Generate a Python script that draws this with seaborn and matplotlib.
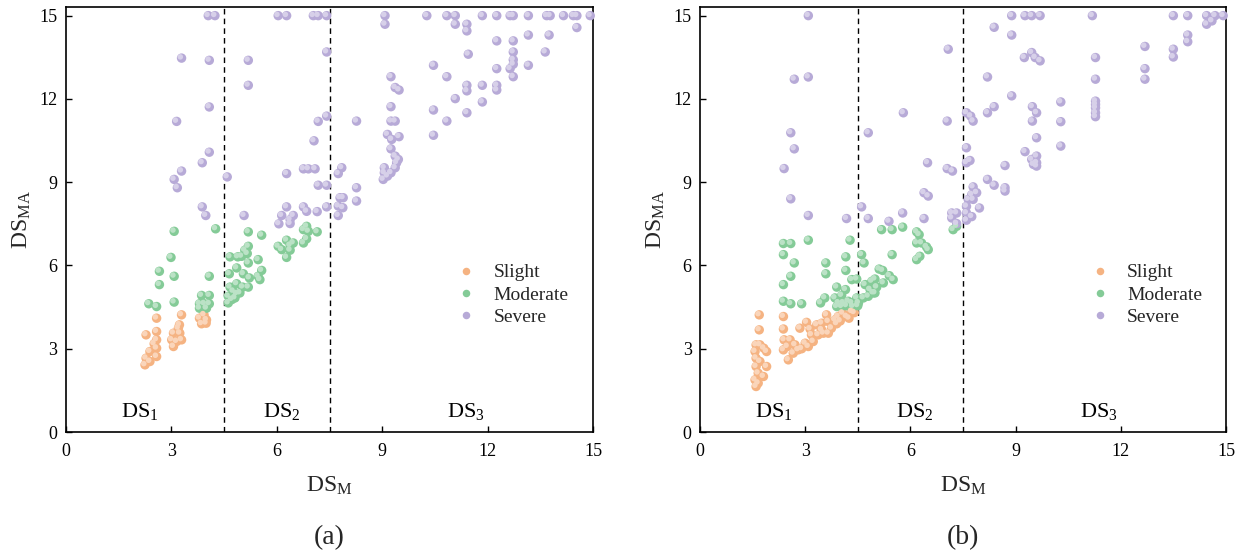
import numpy as np
import pandas as pd
import matplotlib
matplotlib.use("Agg")
import matplotlib.pyplot as plt
import matplotlib.transforms as mtransforms
import matplotlib.colors as mcolors
import seaborn as sns

# ---------------- data: panel (a) ----------------
a_slight_x = [2.58, 3.29, 3.80, 3.93, 4.00, 3.86, 3.99, 2.28, 2.58, 2.58, 2.51, 2.39, 2.28, 2.25, 2.39,
              2.58, 2.58, 3.06, 3.01, 3.06, 3.20, 3.24, 3.29, 3.15, 3.23]
a_slight_y = [4.10, 4.22, 4.10, 4.22, 4.04, 3.90, 3.92, 3.50, 3.62, 3.32, 3.18, 2.90, 2.66, 2.42, 2.54,
              2.72, 3.02, 3.56, 3.32, 3.08, 3.74, 3.56, 3.32, 3.26, 3.86]

a_moderate_x = [4.26, 3.08, 2.99, 2.66, 3.08, 2.66, 4.08, 2.36, 2.58, 3.08, 3.86, 4.08, 3.80, 3.94, 4.08,
                3.80, 4.00,
                5.19, 5.57, 5.19, 5.09, 5.00, 4.67, 4.89, 5.16, 5.47, 5.19, 4.86, 4.65, 5.05, 5.22, 5.57,
                5.47, 5.52, 5.19, 4.86, 4.67, 4.76, 4.86, 4.95, 4.62, 4.72, 4.81, 4.62, 5.03,
                6.04, 6.28, 6.47, 6.14, 6.38, 6.28, 6.76, 6.85, 6.90, 6.85, 6.76, 7.15, 6.38]
a_moderate_y = [7.32, 7.23, 6.29, 5.79, 5.61, 5.31, 5.61, 4.62, 4.52, 4.68, 4.92, 4.92, 4.62, 4.62, 4.62,
                4.46, 4.46,
                7.21, 7.09, 6.69, 6.55, 6.33, 6.31, 6.31, 6.43, 6.21, 6.09, 5.91, 5.70, 5.70, 5.55, 5.82,
                5.61, 5.49, 5.22, 5.34, 5.22, 5.07, 4.98, 5.01, 4.89, 4.77, 4.83, 4.65, 5.22,
                6.69, 6.91, 6.81, 6.57, 6.55, 6.29, 7.29, 7.41, 7.23, 6.96, 6.81, 7.21, 6.72]

a_severe_x = [4.05, 4.24, 6.04, 6.28, 7.04, 7.18, 7.42,
              3.29, 4.08, 5.19, 5.19, 7.42, 4.08, 3.15, 7.18, 7.42, 7.06, 4.08, 3.88, 3.29, 3.08, 3.17,
              4.59, 6.28, 6.76, 6.90, 7.09, 7.18, 7.42, 7.75, 3.88, 3.98, 5.07, 6.28, 6.14, 6.47, 6.38,
              6.06, 6.38, 6.76, 6.85, 7.15, 7.42,
              9.08, 10.27, 10.84, 11.08, 11.85, 12.26, 12.64, 12.73, 13.16, 13.68, 13.78, 14.16, 14.44,
              14.54, 14.92,
              9.08, 11.08, 11.41, 11.41, 14.54, 12.26, 12.73, 13.16, 13.75,
              11.45, 12.73, 12.73, 13.64, 10.46, 12.26, 12.64, 12.73, 13.16, 12.73,
              9.25, 10.84, 9.37, 9.48, 11.41, 11.41, 11.85, 12.26, 12.26, 11.08, 11.85,
              9.25, 10.46, 11.41, 9.25, 9.37, 8.27, 10.84, 10.46, 9.15, 9.27, 9.48,
              9.25, 9.37, 9.41, 9.46, 9.06, 9.06, 9.25, 9.37, 9.03, 9.15,
              7.85, 8.27, 8.27, 7.80, 7.89, 7.75, 7.88, 7.75]
a_severe_y = [15.0, 15.0, 15.0, 15.0, 15.0, 15.0, 15.0,
              13.47, 13.39, 13.39, 12.49, 13.69, 11.71, 11.19, 11.19, 11.38, 10.49, 10.08, 9.70, 9.40,
              9.10, 8.80, 9.19, 9.31, 9.48, 9.48, 9.48, 8.89, 8.89, 9.31, 8.11, 7.80, 7.80, 8.11, 7.80,
              7.80, 7.65, 7.50, 7.51, 8.11, 7.95, 7.94, 8.11,
              15.0, 15.0, 15.0, 15.0, 15.0, 15.0, 15.0, 15.0, 15.0, 15.0, 15.0, 15.0, 15.0, 15.0, 15.0,
              14.69, 14.69, 14.69, 14.45, 14.57, 14.09, 14.09, 14.30, 14.30,
              13.61, 13.69, 13.41, 13.69, 13.21, 13.09, 13.09, 13.25, 13.21, 12.80,
              12.80, 12.80, 12.41, 12.32, 12.49, 12.29, 12.49, 12.49, 12.32, 12.01, 11.89,
              11.72, 11.60, 11.50, 11.20, 11.20, 11.20, 11.20, 10.69, 10.72, 10.54, 10.64,
              10.20, 9.94, 9.70, 9.82, 9.52, 9.34, 9.34, 9.52, 9.10, 9.22,
              9.52, 8.80, 8.32, 8.44, 8.44, 8.14, 8.08, 7.80]

# ---------------- data: panel (b) ----------------
b_slight_x = [1.69, 1.69, 1.60, 1.71, 1.82, 1.57, 1.90, 1.60, 1.71, 1.90, 1.60, 1.66, 1.81, 1.57, 1.60, 1.66,
              2.38, 2.38, 2.40, 2.49, 2.38, 2.52, 2.66, 2.80, 2.57, 2.71,
              3.04, 3.14, 2.85, 3.09, 3.23, 3.37, 3.47, 3.47, 3.66, 3.75, 3.61, 3.85, 3.94, 4.07, 4.18,
              4.33, 3.33, 3.18, 3.52, 3.66, 2.90, 3.00, 3.90, 4.00, 4.25, 4.40]
b_slight_y = [4.22, 3.68, 3.14, 3.14, 3.02, 2.90, 2.90, 2.66, 2.54, 2.36, 2.36, 2.12, 2.00, 1.88, 1.64, 1.76,
              4.16, 3.71, 3.32, 3.08, 2.96, 2.60, 2.84, 2.96, 3.32, 3.14,
              3.95, 3.71, 3.74, 3.08, 3.26, 3.50, 3.92, 3.68, 3.98, 3.74, 4.22, 4.04, 4.16, 4.28, 4.16,
              4.34, 3.86, 3.50, 3.56, 3.56, 3.00, 3.20, 3.90, 4.00, 4.10, 4.30]

b_moderate_x = [7.22, 7.32, 6.18, 6.25, 6.18, 6.32, 6.46, 6.51, 6.27, 6.18,
                5.18, 5.48, 5.78, 3.09, 4.28, 2.38, 2.59, 2.38, 4.61, 5.48, 2.69, 4.16, 3.59, 4.68,
                3.59, 2.59, 2.38, 4.16, 5.11, 5.21, 5.40, 5.51, 4.33, 4.47, 4.90, 4.99, 4.71, 3.90,
                4.15, 5.04, 4.85, 4.99, 5.23,
                2.38, 2.59, 2.90, 3.56, 3.44,
                3.85, 4.04, 3.95, 4.09, 4.23, 4.33, 4.52, 4.66, 4.80, 4.94, 4.47, 3.90, 4.04, 4.18,
                4.36, 4.50]
b_moderate_y = [7.29, 7.41, 7.21, 7.11, 6.81, 6.81, 6.67, 6.57, 6.33, 6.21,
                7.29, 7.29, 7.38, 6.91, 6.91, 6.79, 6.79, 6.39, 6.39, 6.39, 6.09, 6.31, 6.09, 6.09,
                5.70, 5.61, 5.31, 5.82, 5.87, 5.82, 5.63, 5.49, 5.49, 5.51, 5.43, 5.51, 5.31, 5.22,
                5.13, 5.22, 5.13, 5.01, 5.37,
                4.71, 4.62, 4.62, 4.83, 4.65,
                4.83, 4.92, 4.65, 4.65, 4.71, 4.65, 4.65, 4.83, 4.89, 5.01, 4.83, 4.52, 4.52, 4.55,
                4.52, 4.55]

b_severe_x = [3.09, 7.08, 2.69, 3.09, 5.80, 7.05, 7.60, 7.72, 7.79, 2.59, 2.69, 4.80, 7.60, 6.49, 7.60,
              7.70, 2.40, 7.05, 7.20, 7.79, 7.89, 7.75, 7.65, 7.60, 7.79, 7.97, 6.39, 6.51, 2.59, 4.61,
              3.09, 4.18, 4.80, 5.39, 5.78, 6.39, 7.18, 7.32, 7.18, 7.32, 7.60, 7.60, 7.75,
              8.89, 9.27, 9.46, 9.70, 11.19, 13.50, 13.91, 14.45, 14.69, 14.92,
              8.39, 8.89, 14.45, 14.60, 13.91, 13.91, 12.69, 13.50, 13.50, 9.25, 9.46, 9.56, 9.70,
              11.28, 8.20, 12.69, 12.69, 11.28, 8.89, 10.29, 10.29, 10.29, 11.28, 11.28, 11.28, 11.28,
              11.28, 8.39, 8.20, 9.48, 9.60, 9.48, 9.60, 9.27, 9.60, 9.46, 9.60, 9.60, 9.51, 8.70,
              8.20, 8.39, 8.70, 8.70]
b_severe_y = [15.0, 13.79, 12.71, 12.79, 11.50, 11.20, 11.50, 11.38, 11.20, 10.78, 10.20, 10.78, 10.24,
              9.70, 9.70, 9.78, 9.49, 9.49, 9.40, 8.83, 8.62, 8.55, 8.38, 8.13, 8.38, 8.07, 8.62, 8.50,
              8.40, 8.11, 7.80, 7.69, 7.69, 7.59, 7.89, 7.69, 7.89, 7.89, 7.71, 7.51, 7.89, 7.63, 7.76,
              15.0, 15.0, 15.0, 15.0, 15.0, 15.0, 15.0, 15.0, 15.0, 15.0,
              14.58, 14.30, 14.69, 14.81, 14.30, 14.06, 13.89, 13.79, 13.51, 13.49, 13.67, 13.49, 13.37,
              13.49, 12.79, 13.09, 12.71, 12.71, 12.11, 11.89, 11.18, 10.30, 11.92, 11.80, 11.68, 11.50,
              11.36, 11.72, 11.50, 11.72, 11.50, 11.20, 10.60, 10.10, 9.94, 9.82, 9.70, 9.58, 9.64, 9.60,
              9.10, 8.89, 8.80, 8.68]

categories = ["Slight", "Moderate", "Severe"]
colors = ["#F5B382", "#84CB97", "#B7AAD7"]
x_ticks = [0, 3, 6, 9, 12, 15]
y_ticks = [0, 3, 6, 9, 12, 15]
boundaries = [4.5, 7.5]
zone_labels = ["DS$_1$", "DS$_2$", "DS$_3$"]
zone_label_x = [2.1, 6.13, 11.37]

sns.set_theme(style="ticks")
plt.rcParams['font.family'] = ['Liberation Serif', 'DejaVu Serif']
plt.rcParams['mathtext.fontset'] = 'custom'
plt.rcParams['mathtext.rm'] = 'Liberation Serif'
plt.rcParams['mathtext.it'] = 'Liberation Serif:italic'
plt.rcParams['mathtext.bf'] = 'Liberation Serif:bold'


def make_frame(sx, sy, mx, my, vx, vy):
    return pd.DataFrame({
        "DS_M": list(sx) + list(mx) + list(vx),
        "DS_MA": list(sy) + list(my) + list(vy),
        "Damage": [categories[0]] * len(sx) + [categories[1]] * len(mx) + [categories[2]] * len(vx),
    })


def lighten(c, f):
    r, g, b = mcolors.to_rgb(c)
    return (r + (1 - r) * f, g + (1 - g) * f, b + (1 - b) * f)


df_a = make_frame(a_slight_x, a_slight_y, a_moderate_x, a_moderate_y, a_severe_x, a_severe_y)
df_b = make_frame(b_slight_x, b_slight_y, b_moderate_x, b_moderate_y, b_severe_x, b_severe_y)

fig = plt.figure(figsize=(12.42, 5.54), dpi=100)
ax_a = fig.add_axes([0.0531, 0.2202, 0.4244, 0.7666])
ax_b = fig.add_axes([0.5636, 0.2202, 0.4235, 0.7666])

palette = dict(zip(categories, colors))
hl_palette = {k: lighten(v, 0.45) for k, v in palette.items()}

for ax, df, tag in [(ax_a, df_a, "(a)"), (ax_b, df_b, "(b)")]:
    sns.scatterplot(data=df, x="DS_M", y="DS_MA", hue="Damage", hue_order=categories,
                    palette=palette, s=46, edgecolor="none", linewidth=0, ax=ax, zorder=3,
                    clip_on=False)
    # sphere-like highlight drawn from the same data, shifted toward the upper left
    shift = mtransforms.offset_copy(ax.transData, fig=fig, x=-0.9, y=0.9, units="points")
    sns.scatterplot(data=df, x="DS_M", y="DS_MA", hue="Damage", hue_order=categories,
                    palette=hl_palette, s=16, edgecolor="none", linewidth=0, ax=ax, zorder=4,
                    clip_on=False, legend=False, transform=shift)
    for b in boundaries:
        ax.axvline(b, color="black", linestyle=(0, (4, 3)), linewidth=1.0, zorder=2)
    for lbl, xx in zip(zone_labels, zone_label_x):
        ax.text(xx, 0.55, lbl, ha="center", va="baseline", fontsize=16, color="black")
    ax.set_xlim(0, 15)
    ax.set_ylim(0, 15.3)
    ax.set_xticks(x_ticks)
    ax.set_yticks(y_ticks)
    ax.tick_params(direction="in", length=4.5, width=1.0, labelsize=13, top=False, right=False,
                   colors="black")
    ax.tick_params(axis="x", pad=8)
    ax.tick_params(axis="y", pad=6)
    for sp in ax.spines.values():
        sp.set_visible(True)
        sp.set_linewidth(1.2)
        sp.set_color("black")
    ax.set_xlabel("DS$_\\mathrm{M}$", fontsize=17)
    ax.set_ylabel("DS$_\\mathrm{MA}$", fontsize=17)
    ax.xaxis.set_label_coords(0.5, -0.10)
    ax.yaxis.set_label_coords(-0.062, 0.5)
    handles, labels = ax.get_legend_handles_labels()
    ax.legend(handles[:3], labels[:3], loc="center left", bbox_to_anchor=(0.723, 0.3226),
              frameon=False, fontsize=14, markerscale=0.8, handletextpad=0.4,
              labelspacing=0.25, borderaxespad=0, borderpad=0)
    pos = ax.get_position()
    fig.text((pos.x0 + pos.x1) / 2, 0.029, tag, ha="center", va="center", fontsize=20)

fig.savefig("out.png", dpi=100)
